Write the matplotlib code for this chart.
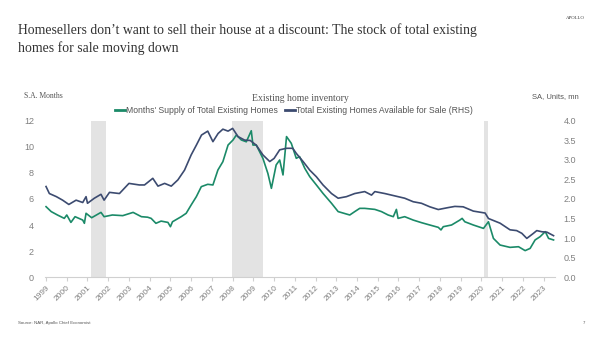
import matplotlib
matplotlib.use('Agg')
import matplotlib.pyplot as plt
from matplotlib.lines import Line2D

# months' supply (LHS)
supply_years = [1999.0, 1999.25, 1999.55, 1999.88, 2000.0, 2000.2, 2000.4, 2000.77, 2000.85, 2000.93,
                2001.2, 2001.65, 2001.8, 2002.2, 2002.7, 2003.2, 2003.6, 2003.9, 2004.07, 2004.3,
                2004.55, 2004.88, 2005.0, 2005.1, 2005.52, 2005.76, 2006.0, 2006.25, 2006.49, 2006.8,
                2007.05, 2007.29, 2007.53, 2007.78, 2008.02, 2008.18, 2008.42, 2008.66, 2008.9, 2008.98,
                2009.14, 2009.46, 2009.7, 2009.87, 2010.1, 2010.27, 2010.43, 2010.6, 2010.83, 2011.07,
                2011.23, 2011.48, 2011.72, 2012.04, 2012.36, 2012.77, 2013.09, 2013.65, 2013.89, 2014.13,
                2014.37, 2014.86, 2015.18, 2015.5, 2015.75, 2015.9, 2015.98, 2016.3, 2016.71, 2017.11,
                2017.51, 2017.92, 2018.05, 2018.16, 2018.56, 2018.96, 2019.07, 2019.2, 2019.61, 2020.1,
                2020.34, 2020.58, 2020.9, 2021.38, 2021.79, 2022.11, 2022.35, 2022.59, 2022.83, 2023.08,
                2023.24, 2023.48]
supply_vals = [5.41, 5.03, 4.77, 4.51, 4.77, 4.2, 4.64, 4.38, 4.13, 4.9,
               4.56, 4.97, 4.64, 4.77, 4.72, 4.97, 4.64, 4.6, 4.51, 4.13,
               4.3, 4.2, 3.87, 4.25, 4.64, 4.9, 5.54, 6.18, 6.95, 7.13,
               7.08, 8.23, 8.87, 10.15, 10.54, 10.92, 10.54, 10.4, 11.25, 10.15,
               10.15, 9.13, 7.97, 6.82, 8.62, 9.0, 7.85, 10.8, 10.28, 9.13,
               9.26, 8.36, 7.72, 7.08, 6.43, 5.67, 5.03, 4.77, 5.03, 5.28,
               5.28, 5.2, 5.03, 4.77, 4.64, 5.2, 4.51, 4.64, 4.38, 4.18,
               4.0, 3.82, 3.62, 3.87, 4.0, 4.38, 4.51, 4.25, 4.0, 3.74,
               4.25, 2.97, 2.46, 2.28, 2.33, 2.03, 2.2, 2.85, 3.1, 3.49,
               2.97, 2.85]

# total existing homes for sale, mn (RHS)
stock_years = [1999.0, 1999.16, 1999.5, 1999.8, 2000.1, 2000.45, 2000.77, 2000.93, 2001.0, 2001.33,
               2001.65, 2001.8, 2002.06, 2002.54, 2003.0, 2003.5, 2003.75, 2004.15, 2004.4, 2004.72,
               2005.04, 2005.36, 2005.68, 2006.0, 2006.25, 2006.5, 2006.8, 2007.05, 2007.3, 2007.53,
               2007.78, 2008.0, 2008.26, 2008.58, 2008.85, 2009.14, 2009.46, 2009.79, 2010.0, 2010.27,
               2010.6, 2010.9, 2011.07, 2011.4, 2011.72, 2012.04, 2012.36, 2012.77, 2013.09, 2013.49,
               2013.89, 2014.37, 2014.7, 2014.86, 2015.34, 2015.82, 2016.3, 2016.71, 2017.11, 2017.51,
               2017.92, 2018.4, 2018.72, 2019.12, 2019.61, 2020.18, 2020.34, 2020.9, 2021.38, 2021.7,
               2021.95, 2022.19, 2022.51, 2022.67, 2022.92, 2023.16, 2023.48]
stock_vals = [2.32, 2.14, 2.06, 1.97, 1.86, 1.97, 1.91, 2.06, 1.89, 2.02,
              2.12, 1.97, 2.17, 2.14, 2.40, 2.36, 2.36, 2.53, 2.33, 2.40,
              2.33, 2.49, 2.74, 3.13, 3.38, 3.64, 3.74, 3.47, 3.68, 3.79,
              3.74, 3.81, 3.60, 3.51, 3.50, 3.38, 3.13, 2.96, 3.04, 3.26,
              3.30, 3.30, 3.17, 2.96, 2.74, 2.57, 2.36, 2.14, 2.02, 2.06,
              2.14, 2.19, 2.10, 2.19, 2.14, 2.08, 2.02, 1.93, 1.89, 1.80,
              1.73, 1.78, 1.81, 1.80, 1.69, 1.64, 1.50, 1.38, 1.21, 1.19,
              1.12, 0.99, 1.12, 1.19, 1.16, 1.15, 1.06]

# recessions
rec_start = [2001.17, 2007.95, 2020.12]
rec_end = [2001.88, 2009.48, 2020.3]

year_ticks = list(range(1999, 2024))

green = '#1b8a68'
navy = '#3c4b70'
grey = '#808080'

fig = plt.figure(figsize=(6, 3.37), dpi=100)
ax = fig.add_axes([0.075, 0.178, 0.85, 0.463])
ax2 = ax.twinx()

for s, e in zip(rec_start, rec_end):
    ax.axvspan(s, e, color='#e3e3e3', lw=0, zorder=0)

ax.plot(supply_years, supply_vals, color=green, lw=1.2, zorder=3)
ax2.plot(stock_years, stock_vals, color=navy, lw=1.2, zorder=3)

ax.set_xlim(1998.95, 2023.55)
ax.set_ylim(0, 12)
ax2.set_ylim(0, 4)
ax.set_yticks(range(0, 13, 2))
ax2.set_yticks([i * 0.5 for i in range(9)])
ax2.set_yticklabels([f'{i * 0.5:.1f}' for i in range(9)])
ax.set_xticks(year_ticks)
ax.set_xticklabels([str(y) for y in year_ticks], rotation=45, ha='right',
                   rotation_mode='anchor', fontsize=6, color=grey, family='Liberation Sans')

for a in (ax, ax2):
    for sp in a.spines.values():
        sp.set_visible(False)
ax.spines['bottom'].set_visible(True)
ax.spines['bottom'].set_color('#d0d0d0')
ax.spines['bottom'].set_linewidth(0.8)
ax.tick_params(axis='x', length=3, color='#d0d0d0', pad=2)
ax.tick_params(axis='y', length=0, labelsize=6.5, labelcolor=grey, pad=8)
ax2.tick_params(axis='y', length=0, labelsize=6.5, labelcolor=grey, pad=6)
for lab in ax.get_yticklabels() + ax2.get_yticklabels():
    lab.set_family('Liberation Sans')

# texts
fig.text(0.03, 0.93, 'Homesellers don\u2019t want to sell their house at a discount: The stock of total existing\nhomes for sale moving down',
         family='Liberation Serif', fontsize=9.9, color='#333333', va='top', linespacing=1.35)
fig.text(0.975, 0.945, 'APOLLO', family='Liberation Serif', fontsize=3.5, ha='right', color='#333333')
fig.text(0.04, 0.71, 'S.A. Months', family='Liberation Serif', fontsize=5.5, color='#555555')
fig.text(0.5, 0.70, 'Existing home inventory', family='Liberation Serif', fontsize=7, color='#555555', ha='center')
fig.text(0.965, 0.71, 'SA, Units, mn', family='Liberation Sans', fontsize=5.5, color='#555555', ha='right')

handles = [Line2D([], [], color=green, lw=2), Line2D([], [], color=navy, lw=2)]
fig.legend(handles, ["Months' Supply of Total Existing Homes", 'Total Existing Homes Available for Sale (RHS)'],
           loc='center', bbox_to_anchor=(0.49, 0.672), ncol=2, frameon=False, handlelength=1.2,
           handletextpad=0.1, columnspacing=0.8, prop={'family': 'Liberation Sans', 'size': 6.2},
           labelcolor='#555555')

fig.text(0.03, 0.038, 'Source: NAR, Apollo Chief Economist', family='Liberation Sans', fontsize=3.2, color='#555555')
fig.text(0.975, 0.038, '7', family='Liberation Sans', fontsize=3.2, color='#555555', ha='right')

fig.savefig('out.png', dpi=100)
